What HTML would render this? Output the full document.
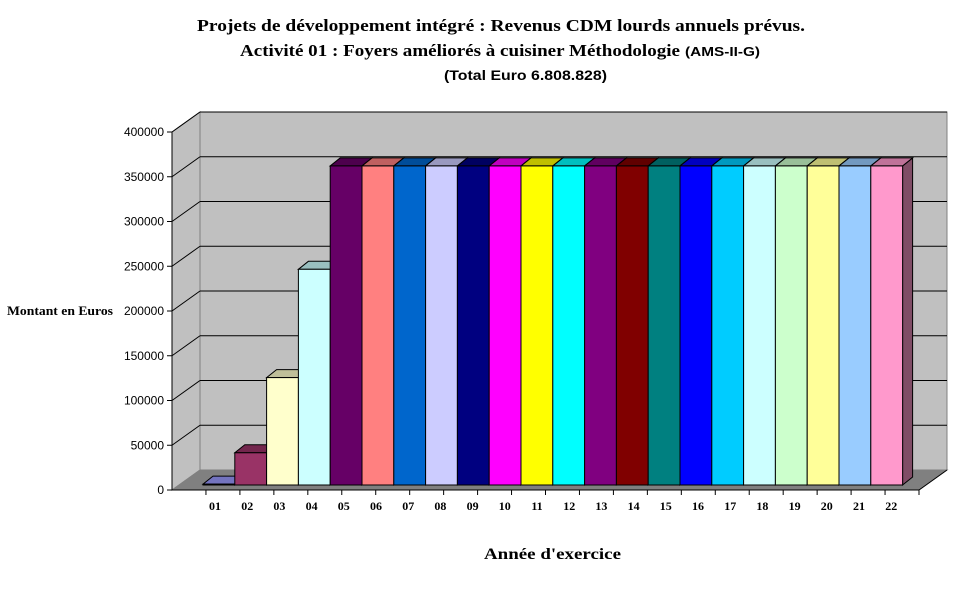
<!DOCTYPE html>
<html><head><meta charset="utf-8">
<style>
html,body{margin:0;padding:0;background:#fff;}
svg{display:block;}
.t{font-family:"Liberation Serif",serif;font-weight:bold;fill:#000;}
.s{font-family:"Liberation Sans",sans-serif;fill:#000;}
</style></head>
<body>
<svg id="chart" width="970" height="604" viewBox="0 0 970 604" xmlns="http://www.w3.org/2000/svg">
<text class="t" x="197" y="31" font-size="17" textLength="608" lengthAdjust="spacingAndGlyphs">Projets de développement intégré : Revenus CDM lourds annuels prévus.</text>
<text class="t" x="240" y="56" font-size="17" textLength="440" lengthAdjust="spacingAndGlyphs">Activité 01 : Foyers améliorés à cuisiner Méthodologie</text>
<text class="s" x="685" y="56" font-size="13" font-weight="bold" textLength="75" lengthAdjust="spacingAndGlyphs">(AMS-II-G)</text>
<text class="s" x="444" y="80" font-size="14" font-weight="bold" textLength="163" lengthAdjust="spacingAndGlyphs">(Total Euro 6.808.828)</text>
<g id="plot"></g>
<text class="t" x="7" y="315" font-size="13" font-weight="normal" textLength="106" lengthAdjust="spacingAndGlyphs">Montant en Euros</text>
<text class="t" x="484" y="559" font-size="16" textLength="137" lengthAdjust="spacingAndGlyphs">Année d'exercice</text>
</svg>
<script>
const categories = ["01","02","03","04","05","06","07","08","09","10","11","12","13","14","15","16","17","18","19","20","21","22"];
const values = [1000,36000,120000,241000,356500,356500,356500,356500,356500,356500,356500,356500,356500,356500,356500,356500,356500,356500,356500,356500,356500,356500];
const colors = ["#9999ff","#993366","#ffffcc","#ccffff","#660066","#ff8080","#0066cc","#ccccff","#000080","#ff00ff","#ffff00","#00ffff","#800080","#800000","#008080","#0000ff","#00ccff","#ccffff","#ccffcc","#ffff99","#99ccff","#ff99cc"];
const yTicks = [0,50000,100000,150000,200000,250000,300000,350000,400000];

const NS="http://www.w3.org/2000/svg";
const g=document.getElementById('plot');
function mk(tag,attrs,name){const e=document.createElementNS(NS,tag);for(const k in attrs)e.setAttribute(k,attrs[k]);


g.appendChild(e);return e;}
function shade(hex,f){const n=parseInt(hex.slice(1),16);let r=(n>>16)&255,gg=(n>>8)&255,b=n&255;
return "rgb("+Math.round(r*f)+","+Math.round(gg*f)+","+Math.round(b*f)+")";}

const FX=172, FY0=490, DX=28, DY=-20, STEP=44.75/50000, XR=919;
const yFront=v=>FY0-v*STEP;
// walls
mk('polygon',{points:`${FX},${yFront(400000)} ${FX+DX},${yFront(400000)+DY} ${FX+DX},${FY0+DY} ${FX},${FY0}`,fill:'#c0c0c0',stroke:'#808080'},'left-wall');
mk('polygon',{points:`${FX+DX},${yFront(400000)+DY} ${XR+DX},${yFront(400000)+DY} ${XR+DX},${FY0+DY} ${FX+DX},${FY0+DY}`,fill:'#c0c0c0',stroke:'#808080'},'back-wall');
mk('polygon',{points:`${FX},${FY0} ${FX+DX},${FY0+DY} ${XR+DX},${FY0+DY} ${XR},${FY0}`,fill:'#808080',stroke:'#808080'},'floor');
yTicks.forEach(v=>{
  const y=yFront(v);
  if(v>0){
    mk('line',{x1:FX,y1:y,x2:FX+DX,y2:y+DY,stroke:'#000','stroke-width':1},'gridline-side');
    mk('line',{x1:FX+DX,y1:y+DY,x2:XR+DX,y2:y+DY,stroke:'#000','stroke-width':1},'gridline-back');
  }
  mk('line',{x1:FX-5,y1:y,x2:FX,y2:y,stroke:'#000'},'y-tick');
  const t=mk('text',{x:FX-8,y:y+4,'font-size':12,'text-anchor':'end',class:'s'},'y-tick-label');t.textContent=v;
});
mk('line',{x1:FX,y1:yFront(400000),x2:FX,y2:FY0,stroke:'#000'},'y-axis-line');
mk('line',{x1:FX,y1:FY0,x2:XR,y2:FY0,stroke:'#000'},'x-axis-line');
mk('line',{x1:XR,y1:FY0,x2:XR+DX,y2:FY0+DY,stroke:'#000'},'floor-edge');
// bars
const BX0=203, BW=31.8, BY0=485, bdx=10, bdy=-8;
const yBar=v=>BY0-v*STEP;
categories.forEach((c,i)=>{
  const x=BX0+i*BW, y=yBar(values[i]), col=colors[i];
  mk('polygon',{points:`${x+BW},${y} ${x+BW+bdx},${y+bdy} ${x+BW+bdx},${BY0+bdy} ${x+BW},${BY0}`,fill:shade(col,0.5),stroke:'#000','stroke-width':1},'bar-side-'+c);
  mk('polygon',{points:`${x},${y} ${x+bdx},${y+bdy} ${x+BW+bdx},${y+bdy} ${x+BW},${y}`,fill:shade(col,0.75),stroke:'#000','stroke-width':1},'bar-top-'+c);
  mk('rect',{x:x,y:y,width:BW,height:BY0-y,fill:col,stroke:'#000','stroke-width':1},'bar-'+c);
  const lx=215+i*32.2;
  mk('line',{x1:FX+(i+1)*(XR-FX)/22,y1:FY0,x2:FX+(i+1)*(XR-FX)/22,y2:FY0+5,stroke:'#000'},'x-tick');
  const t=mk('text',{x:lx,y:510,'font-size':12,'text-anchor':'middle',class:'t','font-weight':'normal'},'x-tick-label');t.textContent=c;
});
</script>
</body></html>
